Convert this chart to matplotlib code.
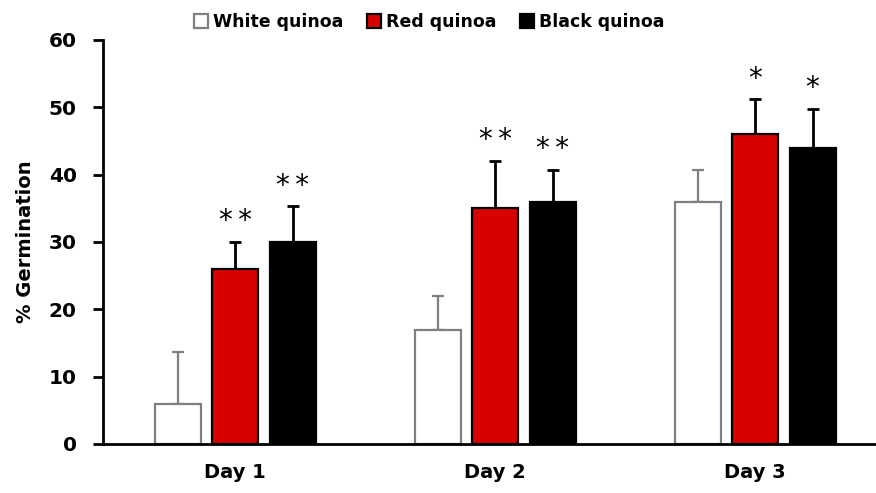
import matplotlib.pyplot as plt
import numpy as np

days = ["Day 1", "Day 2", "Day 3"]
series = ["White quinoa", "Red quinoa", "Black quinoa"]
white = [6, 17, 36]
red = [26, 35, 46]
black = [30, 36, 44]
white_err = [7.6, 5.0, 4.7]
red_err = [4.0, 7.0, 5.2]
black_err = [5.3, 4.7, 5.8]
red_stars = ["*\u2009*", "*\u2009*", "*"]
black_stars = ["*\u2009*", "*\u2009*", "*"]

plt.rcParams["font.family"] = ["DejaVu Sans"]

fig = plt.figure(figsize=(8.76, 4.93), dpi=100)
ax = fig.add_axes([0.1176, 0.0994, 0.8824, 0.8195])

x = np.arange(len(days))
w = 0.177
off = 0.221

ax.bar(x - off, white, w, color="white", edgecolor="#7f7f7f", lw=1.6,
       label=series[0], zorder=2)
ax.errorbar(x - off, white, yerr=[np.zeros(3), white_err], fmt="none",
            ecolor="#7f7f7f", elinewidth=1.6, capsize=4.5, capthick=1.6, zorder=1)
ax.bar(x, red, w, color="#d90000", edgecolor="black", lw=1.6,
       label=series[1], zorder=2)
ax.errorbar(x, red, yerr=[np.zeros(3), red_err], fmt="none",
            ecolor="black", elinewidth=2, capsize=4.5, capthick=2, zorder=1)
ax.bar(x + off, black, w, color="black", edgecolor="black", lw=1.6,
       label=series[2], zorder=2)
ax.errorbar(x + off, black, yerr=[np.zeros(3), black_err], fmt="none",
            ecolor="black", elinewidth=2, capsize=4.5, capthick=2, zorder=1)

# significance marks above the error bars
for xi, v, e, s in zip(x, red, red_err, red_stars):
    ax.text(xi, v + e + 1.0, s, ha="center", va="bottom", fontsize=20)
for xi, v, e, s in zip(x + off, black, black_err, black_stars):
    ax.text(xi, v + e + 1.0, s, ha="center", va="bottom", fontsize=20)

ax.set_xlim(-0.508, 2.465)
ax.set_ylim(0, 60)
ax.set_yticks(range(0, 61, 10))
ax.set_xticks(x)
ax.set_xticklabels(days, fontsize=14, fontweight="bold")
ax.tick_params(axis="x", length=0, pad=14)
ax.tick_params(axis="y", length=7, width=2, labelsize=14.5, pad=12)
for lab in ax.get_yticklabels():
    lab.set_fontweight("bold")
ax.set_ylabel("% Germination", fontsize=14, fontweight="bold", labelpad=10)

for side in ("top", "right"):
    ax.spines[side].set_visible(False)
ax.spines["left"].set_linewidth(2)
ax.spines["bottom"].set_linewidth(2)

fig.legend(loc="upper center", bbox_to_anchor=(0.49, 1.005), ncol=3, frameon=False,
           prop={"size": 12.5, "weight": "bold"}, handlelength=0.8, handleheight=0.8,
           handletextpad=0.25, columnspacing=1.4)

fig.savefig("out.png", dpi=100)
